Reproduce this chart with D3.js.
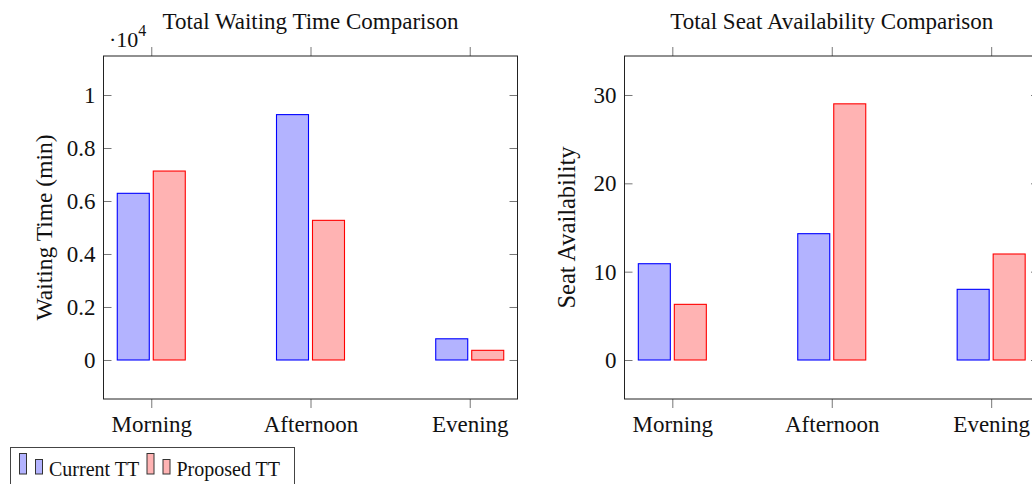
<!DOCTYPE html>
<html>
<head>
<meta charset="utf-8">
<script src="https://cdn.jsdelivr.net/npm/d3@7"></script>
<style>
  body { margin: 0; background: #fff; }
  svg { display: block; font-family: "Liberation Serif", "DejaVu Serif", serif; }
</style>
</head>
<body>
<svg width="1032" height="484"></svg>
<script>
// data
var periods = ["Morning", "Afternoon", "Evening"];
var seriesNames = ["Current TT", "Proposed TT"];
var waitCurrent = [6290, 9260, 800];
var waitProposed = [7130, 5270, 365];
var seatCurrent = [10.9, 14.3, 8.0];
var seatProposed = [6.3, 29.0, 12.0];
var waitTicks = [0, 2000, 4000, 6000, 8000, 10000];
var seatTicks = [0, 10, 20, 30];

var fills = ["#b3b3ff", "#ffb3b3"];
var strokes = ["#0000ff", "#ff0000"];

var svg = d3.select("svg");
var plotTop = 56, plotBottom = 399;

function drawPanel(opt) {
    var g = svg.append("g");
    var x = d3.scalePoint().domain(periods).range([opt.left, opt.right]).padding(0.3);
    var y = d3.scaleLinear().domain(opt.domain).range([plotBottom, plotTop]);
    var sub = d3.scaleBand().domain(seriesNames).range([-34, 34]).paddingInner(0.111);

    // bars
    var rows = periods.map(function(p, i) {
        return { period: p, vals: [opt.current[i], opt.proposed[i]] };
    });
    g.selectAll("g.grp")
        .data(rows)
        .enter().append("g")
        .attr("class", "grp")
        .attr("transform", function(d) { return "translate(" + x(d.period) + ",0)"; })
        .selectAll("rect")
        .data(function(d) { return d.vals.map(function(v, k) { return { name: seriesNames[k], v: v, k: k }; }); })
        .enter().append("rect")
        .attr("x", function(d) { return sub(d.name); })
        .attr("width", sub.bandwidth())
        .attr("y", function(d) { return y(d.v); })
        .attr("height", function(d) { return y(0) - y(d.v); })
        .attr("fill", function(d) { return fills[d.k]; })
        .attr("stroke", function(d) { return strokes[d.k]; })
        .attr("stroke-width", 1.1);

    // axes
    var yl = g.append("g").attr("transform", "translate(" + opt.left + ",0)")
        .call(d3.axisLeft(y).tickValues(opt.ticks).tickSize(-8).tickPadding(8).tickFormat(opt.fmt));
    var yr = g.append("g").attr("transform", "translate(" + opt.right + ",0)")
        .call(d3.axisRight(y).tickValues(opt.ticks).tickSize(-8).tickFormat(""));
    var xb = g.append("g").attr("transform", "translate(0," + plotBottom + ")")
        .call(d3.axisBottom(x).tickSize(9).tickPadding(8));
    var xt = g.append("g").attr("transform", "translate(0," + plotTop + ")")
        .call(d3.axisTop(x).tickSize(9).tickFormat(""));

    [yl, yr, xb, xt].forEach(function(a) {
        a.select(".domain").remove();
        a.selectAll(".tick line").attr("stroke", "#777");
        a.attr("font-family", null).attr("font-size", null);
        a.selectAll("text").attr("fill", "#111").style("font-size", "23px");
    });
    yl.selectAll("text").attr("dy", "0.33em");

    g.append("rect")
        .attr("x", opt.left).attr("y", plotTop)
        .attr("width", opt.right - opt.left).attr("height", plotBottom - plotTop)
        .attr("fill", "none").attr("stroke", "#222").attr("stroke-width", 1);

    g.append("text")
        .attr("x", (opt.left + opt.right) / 2).attr("y", 29)
        .attr("text-anchor", "middle")
        .style("font-size", "23px").attr("fill", "#111")
        .text(opt.title);

    g.append("text")
        .attr("transform", "translate(" + opt.labelX + "," + ((plotTop + plotBottom) / 2) + ") rotate(-90)")
        .attr("text-anchor", "middle")
        .style("font-size", opt.labelSize).attr("fill", "#111")
        .text(opt.ylabel);
    return g;
}

drawPanel({
    left: 103.5, right: 517.5,
    domain: [-1472, 11472],
    ticks: waitTicks,
    fmt: function(d) { return String(+(d / 1e4).toFixed(1)); },
    current: waitCurrent, proposed: waitProposed,
    title: "Total Waiting Time Comparison",
    ylabel: "Waiting Time (min)",
    labelX: 51.5, labelSize: "23.5px"
});

drawPanel({
    left: 624.5, right: 1039,
    domain: [-4.415, 34.415],
    ticks: seatTicks,
    fmt: d3.format("d"),
    current: seatCurrent, proposed: seatProposed,
    title: "Total Seat Availability Comparison",
    ylabel: "Seat Availability",
    labelX: 575, labelSize: "24.5px"
});

// scale factor label
var sf = svg.append("text").attr("x", 109).attr("y", 46.5).style("font-size", "22px").attr("fill", "#111");
sf.append("tspan").text("\u00b710");
sf.append("tspan").attr("dy", -11).style("font-size", "16px").text("4");

// legend
var leg = svg.append("g");
leg.append("rect").attr("x", 10.5).attr("y", 447.5).attr("width", 284).attr("height", 50)
    .attr("fill", "#fff").attr("stroke", "#444").attr("stroke-width", 1);
var legX = [19, 146.5];
seriesNames.forEach(function(name, k) {
    var x0 = legX[k];
    leg.append("rect").attr("x", x0 + 0.5).attr("y", 453.5).attr("width", 7).attr("height", 20.5)
        .attr("fill", fills[k]).attr("stroke", "#333");
    leg.append("rect").attr("x", x0 + 16.5).attr("y", 459.5).attr("width", 7).attr("height", 14.5)
        .attr("fill", fills[k]).attr("stroke", "#333");
    leg.append("text").attr("x", x0 + 30).attr("y", 475.5)
        .style("font-size", "20px").attr("fill", "#111")
        .text(name);
});
</script>
</body>
</html>
